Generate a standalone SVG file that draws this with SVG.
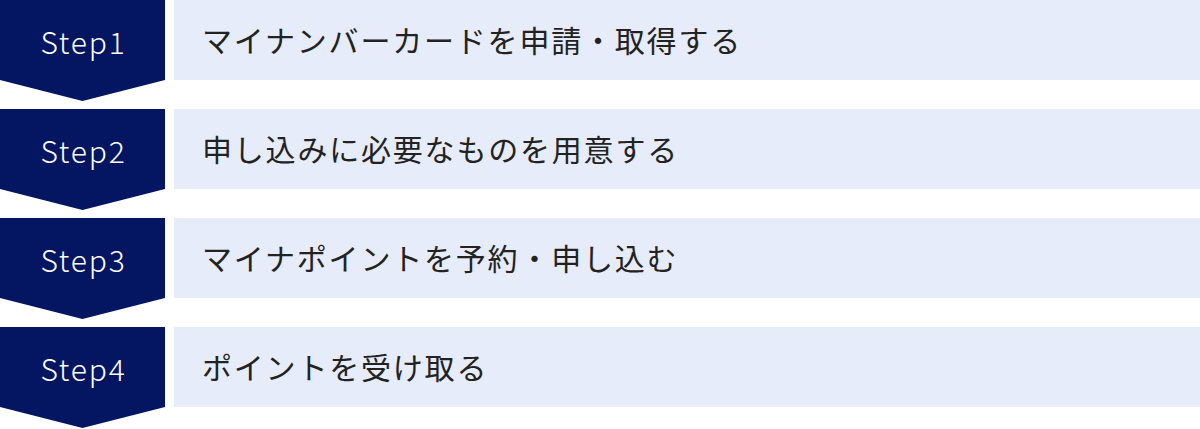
<svg xmlns="http://www.w3.org/2000/svg" width="1200" height="429" viewBox="0 0 1200 429">
<style>
.chev{fill:#041661}
.box{fill:#E6ECF9}
.step{font-family:"Noto Sans CJK JP","Noto Sans",sans-serif;font-size:30px;font-weight:300;fill:#ffffff;text-anchor:middle;letter-spacing:1.8px}
.label{font-family:"Noto Sans CJK JP","Noto Sans",sans-serif;font-size:30px;fill:#222222;letter-spacing:1.8px}
</style>
<rect width="1200" height="429" fill="#ffffff"/>
<g id="step1">
<path class="chev" d="M0,0H165V80L82.5,101L0,80Z"/>
<rect class="box" x="174" y="0" width="1026" height="80"/>
<text class="step" x="83.5" y="54">Step1</text>
<text class="label" x="202" y="51.5">マイナンバーカードを申請・取得する</text>
</g>
<g id="step2" transform="translate(0,109)">
<path class="chev" d="M0,0H165V80L82.5,101L0,80Z"/>
<rect class="box" x="174" y="0" width="1026" height="80"/>
<text class="step" x="83.5" y="54">Step2</text>
<text class="label" x="202" y="51.5">申し込みに必要なものを用意する</text>
</g>
<g id="step3" transform="translate(0,218)">
<path class="chev" d="M0,0H165V80L82.5,101L0,80Z"/>
<rect class="box" x="174" y="0" width="1026" height="80"/>
<text class="step" x="83.5" y="54">Step3</text>
<text class="label" x="202" y="51.5">マイナポイントを予約・申し込む</text>
</g>
<g id="step4" transform="translate(0,327)">
<path class="chev" d="M0,0H165V80L82.5,101L0,80Z"/>
<rect class="box" x="174" y="0" width="1026" height="80"/>
<text class="step" x="83.5" y="54">Step4</text>
<text class="label" x="202" y="51.5">ポイントを受け取る</text>
</g>
<g id="connectors"></g>
</svg>
